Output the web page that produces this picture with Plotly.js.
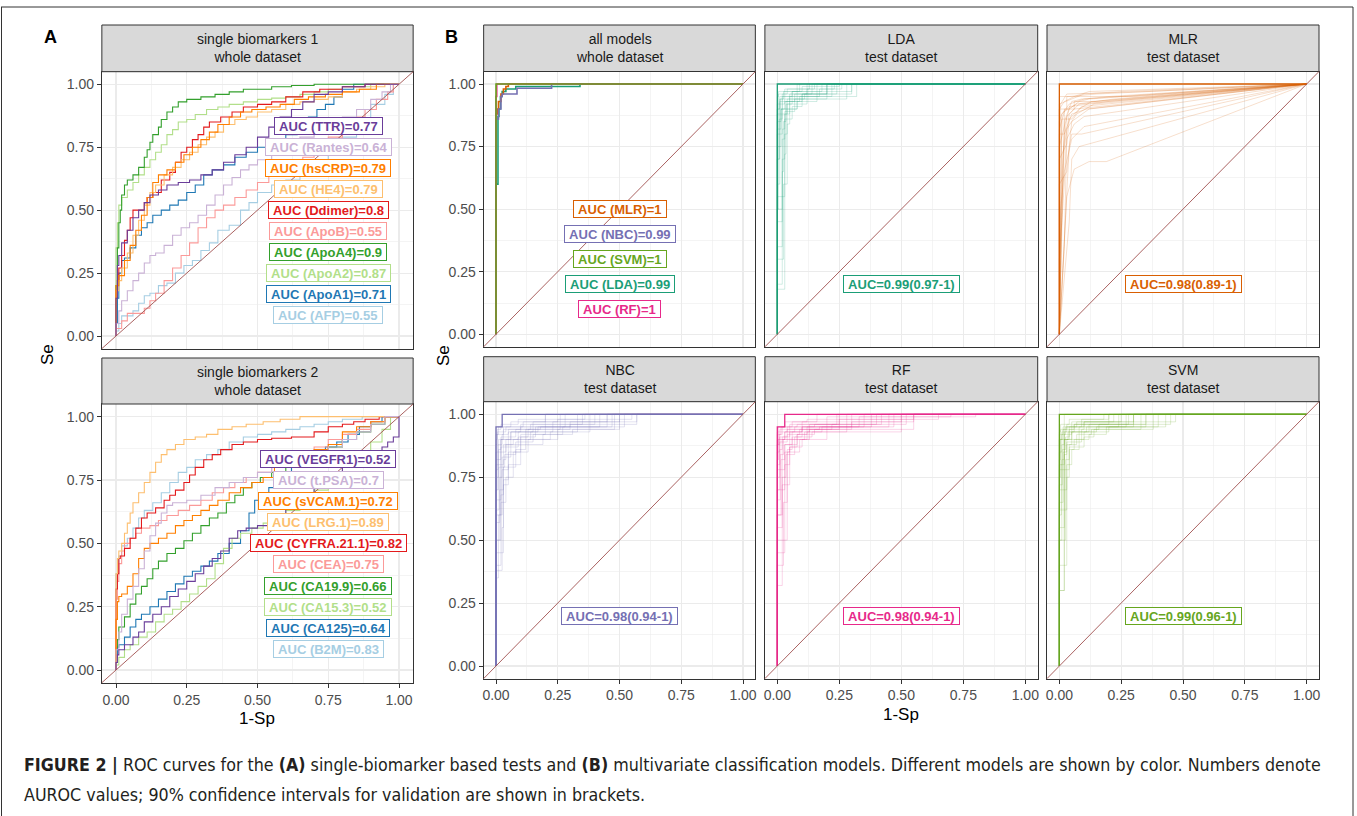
<!DOCTYPE html>
<html><head><meta charset="utf-8">
<script src="https://cdn.plot.ly/plotly-3.0.1.min.js"></script>
<style>html,body{margin:0;padding:0;background:#fff}#chart{width:1357px;height:816px}</style>
</head><body><div id="chart"></div>
<script>
// ---------------- DATA ----------------
const BIOMARKERS_1 = ['AFP','ApoA1','ApoA2','ApoA4','ApoB','Ddimer','HE4','hsCRP','Rantes','TTR'];
const AUC_1 = [0.55,0.71,0.87,0.9,0.55,0.8,0.79,0.79,0.64,0.77];
const BIOMARKERS_2 = ['B2M','CA125','CA15.3','CA19.9','CEA','CYFRA.21.1','LRG.1','sVCAM.1','t.PSA','VEGFR1'];
const AUC_2 = [0.83,0.64,0.52,0.66,0.75,0.82,0.89,0.72,0.7,0.52];
const MODELS = ['LDA','MLR','NBC','RF','SVM'];
const AUC_MODELS = [0.99,1,0.99,1,1];
const AUC_TEST = ['0.99(0.97-1)','0.98(0.89-1)','0.98(0.94-1)','0.98(0.94-1)','0.99(0.96-1)'];
const STRIP_TITLES = ['single biomarkers 1<br>whole dataset','single biomarkers 2<br>whole dataset','all models<br>whole dataset','LDA<br>test dataset','MLR<br>test dataset','NBC<br>test dataset','RF<br>test dataset','SVM<br>test dataset'];
const TICK_VALS = [0,0.25,0.5,0.75,1];
const TICK_TEXT = ['0.00','0.25','0.50','0.75','1.00'];

// ROC curves (1-Sp, Se) pairs, panel A top
const ROC_AFP = [0,0, 0.01,0.02, 0.02,0.05, 0.04,0.08, 0.06,0.08, 0.08,0.1, 0.1,0.13, 0.12,0.16, 0.15,0.17, 0.18,0.2, 0.21,0.21, 0.24,0.25, 0.27,0.28, 0.3,0.3, 0.33,0.34, 0.36,0.37, 0.4,0.42, 0.44,0.44, 0.47,0.5, 0.5,0.53, 0.55,0.57, 0.6,0.6, 0.65,0.62, 0.7,0.66, 0.75,0.7, 0.8,0.74, 0.85,0.79, 0.9,0.85, 0.95,0.92, 0.98,0.96, 1,1];
const ROC_APOA1 = [0,0, 0.005,0.05, 0.01,0.15, 0.02,0.25, 0.03,0.3, 0.05,0.31, 0.07,0.35, 0.09,0.4, 0.11,0.43, 0.13,0.45, 0.16,0.48, 0.19,0.5, 0.22,0.52, 0.25,0.54, 0.28,0.57, 0.31,0.6, 0.34,0.64, 0.38,0.66, 0.42,0.68, 0.46,0.71, 0.5,0.73, 0.55,0.75, 0.6,0.77, 0.64,0.8, 0.68,0.83, 0.71,0.87, 0.74,0.9, 0.77,0.92, 0.8,0.95, 0.84,0.98, 0.88,1, 1,1];
const ROC_APOA2 = [0,0, 0,0.25, 0.005,0.35, 0.01,0.45, 0.02,0.52, 0.04,0.55, 0.06,0.58, 0.08,0.61, 0.1,0.64, 0.12,0.67, 0.14,0.7, 0.16,0.73, 0.18,0.76, 0.2,0.8, 0.22,0.82, 0.25,0.85, 0.28,0.86, 0.32,0.88, 0.36,0.9, 0.4,0.91, 0.45,0.92, 0.5,0.93, 0.55,0.94, 0.6,0.945, 0.65,0.95, 0.7,0.96, 0.75,0.97, 0.8,0.98, 0.9,0.99, 1,1];
const ROC_APOA4 = [0,0, 0.005,0.2, 0.01,0.35, 0.015,0.45, 0.02,0.5, 0.03,0.56, 0.04,0.6, 0.06,0.62, 0.08,0.64, 0.1,0.67, 0.11,0.71, 0.12,0.74, 0.13,0.77, 0.15,0.8, 0.16,0.83, 0.18,0.86, 0.2,0.89, 0.22,0.91, 0.25,0.93, 0.3,0.94, 0.35,0.95, 0.4,0.96, 0.45,0.97, 0.55,0.98, 0.62,0.99, 0.7,0.995, 0.8,1, 1,1];
const ROC_APOB = [0,0, 0.02,0.03, 0.04,0.06, 0.06,0.09, 0.1,0.09, 0.12,0.11, 0.14,0.14, 0.17,0.17, 0.2,0.22, 0.23,0.27, 0.26,0.32, 0.29,0.37, 0.32,0.43, 0.35,0.47, 0.38,0.5, 0.42,0.52, 0.46,0.55, 0.5,0.58, 0.54,0.61, 0.58,0.64, 0.62,0.66, 0.66,0.68, 0.7,0.71, 0.75,0.74, 0.8,0.79, 0.85,0.84, 0.88,0.87, 0.92,0.9, 0.96,0.94, 0.98,0.97, 1,1];
const ROC_DDIMER = [0,0, 0,0.1, 0.005,0.18, 0.01,0.22, 0.02,0.27, 0.03,0.32, 0.04,0.38, 0.05,0.42, 0.06,0.47, 0.07,0.5, 0.1,0.5, 0.11,0.53, 0.13,0.55, 0.16,0.57, 0.19,0.62, 0.21,0.65, 0.23,0.69, 0.25,0.73, 0.27,0.75, 0.29,0.78, 0.31,0.8, 0.33,0.83, 0.37,0.85, 0.41,0.87, 0.45,0.89, 0.5,0.91, 0.55,0.92, 0.6,0.93, 0.66,0.95, 0.72,0.97, 0.8,0.98, 0.88,0.99, 1,1];
const ROC_HE4 = [0,0, 0,0.12, 0.01,0.18, 0.02,0.22, 0.04,0.27, 0.06,0.33, 0.08,0.4, 0.1,0.46, 0.12,0.52, 0.14,0.57, 0.17,0.6, 0.2,0.64, 0.23,0.67, 0.26,0.7, 0.29,0.73, 0.32,0.76, 0.35,0.79, 0.38,0.81, 0.42,0.84, 0.46,0.86, 0.5,0.87, 0.55,0.89, 0.6,0.9, 0.65,0.92, 0.7,0.93, 0.75,0.94, 0.8,0.95, 0.85,0.97, 0.9,0.98, 0.95,0.99, 1,1];
const ROC_HSCRP = [0,0, 0,0.15, 0.01,0.2, 0.03,0.24, 0.05,0.3, 0.07,0.36, 0.09,0.42, 0.11,0.48, 0.13,0.55, 0.15,0.61, 0.18,0.64, 0.21,0.66, 0.24,0.69, 0.27,0.72, 0.3,0.75, 0.33,0.78, 0.36,0.81, 0.4,0.84, 0.44,0.87, 0.48,0.89, 0.53,0.9, 0.58,0.91, 0.63,0.92, 0.68,0.94, 0.74,0.95, 0.8,0.96, 0.86,0.97, 0.92,0.98, 1,1];
const ROC_RANTES = [0,0, 0.01,0.05, 0.02,0.1, 0.04,0.14, 0.06,0.18, 0.08,0.22, 0.1,0.25, 0.12,0.29, 0.14,0.32, 0.17,0.33, 0.2,0.36, 0.23,0.4, 0.26,0.43, 0.29,0.45, 0.32,0.48, 0.35,0.52, 0.38,0.56, 0.41,0.6, 0.44,0.63, 0.47,0.66, 0.5,0.68, 0.55,0.7, 0.6,0.73, 0.65,0.76, 0.7,0.79, 0.75,0.82, 0.8,0.85, 0.85,0.87, 0.9,0.9, 0.94,0.94, 0.97,0.97, 1,1];
const ROC_TTR = [0,0, 0.005,0.15, 0.01,0.28, 0.02,0.32, 0.04,0.37, 0.06,0.42, 0.08,0.47, 0.1,0.5, 0.12,0.53, 0.15,0.56, 0.18,0.58, 0.22,0.6, 0.26,0.61, 0.3,0.62, 0.34,0.64, 0.38,0.66, 0.42,0.69, 0.46,0.72, 0.5,0.75, 0.54,0.79, 0.58,0.83, 0.62,0.87, 0.66,0.9, 0.7,0.93, 0.75,0.96, 0.8,0.97, 0.88,0.99, 1,1];

// panel A bottom
const ROC_B2M = [0,0, 0,0.3, 0.01,0.38, 0.02,0.45, 0.04,0.49, 0.06,0.52, 0.08,0.56, 0.1,0.6, 0.13,0.63, 0.16,0.66, 0.19,0.7, 0.22,0.74, 0.25,0.78, 0.28,0.8, 0.32,0.83, 0.36,0.85, 0.4,0.87, 0.45,0.9, 0.5,0.92, 0.55,0.93, 0.6,0.94, 0.65,0.95, 0.7,0.96, 0.75,0.97, 0.8,0.98, 0.87,0.99, 0.95,1, 1,1];
const ROC_CA125 = [0,0, 0.005,0.05, 0.01,0.09, 0.03,0.1, 0.05,0.13, 0.07,0.17, 0.09,0.2, 0.12,0.22, 0.15,0.25, 0.18,0.28, 0.21,0.31, 0.24,0.34, 0.27,0.37, 0.3,0.39, 0.33,0.41, 0.36,0.43, 0.4,0.46, 0.44,0.5, 0.47,0.55, 0.49,0.62, 0.51,0.67, 0.54,0.7, 0.58,0.72, 0.62,0.75, 0.66,0.8, 0.7,0.83, 0.74,0.86, 0.78,0.88, 0.82,0.9, 0.86,0.93, 0.9,0.96, 0.94,0.98, 1,1];
const ROC_CA153 = [0,0, 0.01,0.02, 0.03,0.05, 0.05,0.08, 0.08,0.1, 0.11,0.13, 0.14,0.15, 0.17,0.19, 0.2,0.22, 0.23,0.24, 0.26,0.27, 0.29,0.3, 0.32,0.33, 0.35,0.36, 0.38,0.42, 0.41,0.48, 0.44,0.52, 0.48,0.54, 0.52,0.56, 0.56,0.58, 0.6,0.6, 0.65,0.63, 0.7,0.67, 0.75,0.71, 0.8,0.76, 0.85,0.8, 0.9,0.85, 0.94,0.9, 0.97,0.95, 1,1];
const ROC_CA199 = [0,0, 0,0.05, 0.005,0.09, 0.01,0.12, 0.03,0.17, 0.05,0.21, 0.07,0.26, 0.09,0.3, 0.11,0.33, 0.13,0.36, 0.15,0.4, 0.18,0.43, 0.21,0.46, 0.24,0.48, 0.27,0.51, 0.3,0.54, 0.33,0.57, 0.36,0.6, 0.39,0.62, 0.42,0.66, 0.45,0.69, 0.48,0.72, 0.51,0.74, 0.55,0.76, 0.6,0.78, 0.65,0.8, 0.7,0.83, 0.75,0.86, 0.8,0.88, 0.85,0.91, 0.9,0.94, 0.95,0.97, 1,1];
const ROC_CEA = [0,0, 0,0.15, 0.005,0.28, 0.01,0.35, 0.02,0.42, 0.03,0.47, 0.05,0.5, 0.07,0.52, 0.09,0.54, 0.12,0.56, 0.15,0.57, 0.18,0.59, 0.22,0.61, 0.26,0.63, 0.3,0.65, 0.34,0.67, 0.38,0.7, 0.42,0.72, 0.46,0.74, 0.5,0.76, 0.55,0.78, 0.6,0.8, 0.65,0.82, 0.7,0.85, 0.75,0.88, 0.8,0.91, 0.85,0.93, 0.9,0.95, 0.95,0.98, 1,1];
const ROC_CYFRA = [0,0, 0,0.25, 0.005,0.32, 0.01,0.38, 0.015,0.44, 0.03,0.45, 0.05,0.48, 0.07,0.52, 0.09,0.56, 0.11,0.6, 0.14,0.62, 0.17,0.64, 0.19,0.67, 0.21,0.69, 0.24,0.71, 0.26,0.74, 0.28,0.77, 0.31,0.8, 0.34,0.83, 0.37,0.85, 0.41,0.87, 0.45,0.89, 0.5,0.9, 0.55,0.91, 0.62,0.915, 0.7,0.92, 0.75,0.94, 0.8,0.96, 0.84,0.97, 0.88,0.98, 0.93,0.99, 1,1];
const ROC_LRG1 = [0,0, 0,0.3, 0.005,0.38, 0.01,0.44, 0.02,0.47, 0.03,0.5, 0.04,0.54, 0.05,0.58, 0.06,0.62, 0.08,0.66, 0.1,0.7, 0.12,0.74, 0.14,0.78, 0.16,0.82, 0.18,0.85, 0.21,0.87, 0.24,0.89, 0.28,0.91, 0.32,0.92, 0.36,0.93, 0.41,0.95, 0.46,0.96, 0.52,0.97, 0.58,0.98, 0.65,0.99, 0.75,1, 1,1];
const ROC_SVCAM1 = [0,0, 0,0.05, 0.005,0.2, 0.01,0.27, 0.02,0.29, 0.04,0.3, 0.06,0.33, 0.08,0.38, 0.1,0.44, 0.12,0.48, 0.15,0.5, 0.18,0.52, 0.21,0.54, 0.24,0.57, 0.27,0.59, 0.3,0.61, 0.33,0.63, 0.36,0.65, 0.4,0.67, 0.44,0.7, 0.48,0.72, 0.52,0.74, 0.56,0.76, 0.6,0.8, 0.65,0.84, 0.7,0.86, 0.75,0.87, 0.8,0.89, 0.85,0.94, 0.9,0.96, 0.95,0.98, 1,1];
const ROC_TPSA = [0,0, 0,0.02, 0.01,0.08, 0.02,0.15, 0.04,0.22, 0.06,0.28, 0.08,0.33, 0.1,0.4, 0.12,0.47, 0.14,0.53, 0.16,0.58, 0.18,0.62, 0.2,0.65, 0.25,0.66, 0.3,0.67, 0.35,0.69, 0.4,0.72, 0.45,0.74, 0.5,0.76, 0.55,0.78, 0.6,0.8, 0.65,0.82, 0.7,0.84, 0.75,0.86, 0.8,0.88, 0.85,0.91, 0.9,0.94, 0.95,0.97, 1,1];
const ROC_VEGFR1 = [0,0, 0.005,0.03, 0.01,0.06, 0.03,0.08, 0.06,0.1, 0.08,0.13, 0.1,0.15, 0.13,0.19, 0.16,0.22, 0.19,0.25, 0.22,0.29, 0.25,0.32, 0.28,0.35, 0.31,0.38, 0.34,0.41, 0.37,0.44, 0.4,0.47, 0.43,0.52, 0.46,0.55, 0.5,0.56, 0.55,0.57, 0.6,0.6, 0.65,0.64, 0.7,0.68, 0.75,0.72, 0.8,0.77, 0.85,0.81, 0.9,0.84, 0.94,0.86, 0.96,0.88, 0.98,0.9, 1,0.92, 1,1];

// panel B, all models, whole dataset
const ROC_LDA = [0,0, 0.008,0.6, 0.012,0.87, 0.018,0.9, 0.025,0.95, 0.04,0.97, 0.08,0.98, 0.34,0.99, 1,1];
const ROC_MLR = [0,0, 0.005,0.88, 0.01,0.9, 0.02,0.93, 0.03,0.96, 0.04,0.98, 0.05,0.99, 1,1];
const ROC_NBC = [0,0, 0.01,0.86, 0.02,0.9, 0.025,0.95, 0.085,0.96, 0.225,0.983, 1,1];
const ROC_RF = [0,0, 0.003,0.95, 1,1];
const ROC_SVM = [0,0, 1,1];

// test dataset: main curves
const TEST_LDA = [0,0, 1,1];
const TEST_MLR = [0,0, 0,1, 1,1];
const TEST_NBC = [0,0, 0.025,0.95, 1,1];
const TEST_RF = [0,0, 0.03,0.95, 1,1];
const TEST_SVM = [0,0, 1,1];

// test dataset: validation resamples
const BOOT_LDA = [
 [0,0, 0.005,0.8, 0.02,0.92, 0.06,0.95, 0.18,0.97, 1,1],
 [0,0, 0.01,0.6, 0.015,0.85, 0.04,0.9, 0.1,0.94, 0.3,0.96, 1,1],
 [0,0, 0.02,0.2, 0.03,0.7, 0.05,0.88, 0.09,0.93, 0.22,0.95, 1,1],
 [0,0, 0.01,0.9, 0.03,0.95, 0.08,0.98, 1,1],
 [0,0, 0.015,0.75, 0.03,0.9, 0.07,0.93, 0.14,0.96, 1,1],
 [0,0, 0.005,0.5, 0.02,0.8, 0.04,0.88, 0.12,0.92, 0.32,0.95, 1,1],
 [0,0, 0.02,0.35, 0.025,0.65, 0.035,0.85, 0.06,0.92, 0.2,0.96, 1,1],
 [0,0, 0.01,0.85, 0.025,0.94, 0.1,0.97, 0.25,0.99, 1,1],
 [0,0, 0.03,0.55, 0.04,0.8, 0.08,0.9, 0.16,0.93, 1,1],
 [0,0, 0.005,0.92, 0.04,0.96, 0.13,0.98, 1,1],
 [0,0, 0.02,0.45, 0.03,0.78, 0.06,0.86, 0.1,0.91, 0.28,0.94, 1,1],
 [0,0, 0.01,0.7, 0.02,0.88, 0.05,0.93, 0.17,0.95, 0.26,0.98, 1,1],
 [0,0, 0.025,0.3, 0.04,0.6, 0.05,0.84, 0.08,0.9, 0.12,0.95, 1,1],
 [0,0, 0.005,0.95, 0.09,0.97, 1,1],
 [0,0, 0.015,0.82, 0.035,0.9, 0.1,0.93, 0.2,0.96, 1,1],
 [0,0, 0.01,0.88, 0.02,0.93, 0.06,0.96, 0.3,0.97, 1,1],
 [0,0, 0.02,0.5, 0.03,0.82, 0.07,0.89, 0.11,0.94, 0.24,0.96, 1,1],
 [0,0, 0.008,0.7, 0.02,0.86, 0.03,0.92, 0.08,0.95, 0.15,0.98, 1,1],
 [0,0, 0.03,0.18, 0.035,0.72, 0.05,0.9, 0.2,0.94, 1,1],
 [0,0, 0.012,0.9, 0.05,0.94, 0.12,0.96, 0.23,0.98, 1,1]
];
const BOOT_MLR = [
 [0,0, 0,0.8, 0.02,0.8, 0.02,0.9, 0.06,0.9, 0.06,0.93, 0.15,0.93, 1,1],
 [0,0, 0.01,0.5, 0.02,0.75, 0.04,0.88, 0.08,0.92, 1,1],
 [0,0, 0,0.6, 0.03,0.65, 0.05,0.85, 0.12,0.9, 1,1],
 [0,0, 0,0.9, 0.03,0.9, 0.03,0.95, 0.3,0.95, 1,1],
 [0,0, 0.03,0.55, 0.06,0.66, 0.12,0.69, 0.19,0.69, 1,1],
 [0,0, 0,0.85, 0.01,0.88, 0.04,0.92, 0.1,0.94, 0.2,0.95, 1,1],
 [0,0, 0.01,0.7, 0.01,0.86, 0.05,0.86, 0.09,0.91, 1,1],
 [0,0, 0,0.3, 0.02,0.6, 0.03,0.82, 0.07,0.88, 0.14,0.92, 1,1],
 [0,0, 0,0.92, 0.05,0.94, 0.1,0.96, 0.25,0.97, 1,1],
 [0,0, 0.02,0.35, 0.03,0.78, 0.06,0.84, 0.1,0.87, 1,1],
 [0,0, 0,0.75, 0.02,0.83, 0.04,0.9, 0.08,0.93, 0.12,0.94, 1,1],
 [0,0, 0.01,0.88, 0.04,0.91, 0.2,0.93, 1,1],
 [0,0, 0.005,0.5, 0.02,0.65, 0.05,0.78, 0.1,0.83, 1,1],
 [0,0, 0,0.95, 0.04,0.95, 0.15,0.96, 1,1],
 [0,0, 0.015,0.72, 0.03,0.87, 0.06,0.9, 0.16,0.91, 1,1],
 [0,0, 0,0.82, 0.02,0.89, 0.07,0.92, 0.22,0.94, 1,1],
 [0,0, 0.03,0.6, 0.04,0.75, 0.05,0.8, 0.09,0.8, 1,1],
 [0,0, 0,0.9, 0.02,0.93, 0.06,0.95, 0.12,0.97, 1,1],
 [0,0, 0.01,0.62, 0.02,0.8, 0.05,0.88, 0.11,0.9, 1,1],
 [0,0, 0,0.7, 0.03,0.76, 0.04,0.86, 0.08,0.9, 0.13,0.93, 1,1],
 [0,0, 0.02,0.85, 0.05,0.93, 0.09,0.94, 1,1],
 [0,0, 0.005,0.92, 0.03,0.96, 0.35,0.97, 1,1],
 [0,0, 0.04,0.45, 0.05,0.7, 0.08,0.75, 1,1]
];
const BOOT_NBC = [
 [0,0, 0.01,0.35, 0.02,0.6, 0.03,0.8, 0.06,0.88, 0.15,0.93, 0.45,0.95, 1,1],
 [0,0, 0.005,0.7, 0.02,0.85, 0.05,0.9, 0.12,0.93, 0.3,0.94, 0.57,0.96, 1,1],
 [0,0, 0.02,0.5, 0.03,0.68, 0.08,0.79, 0.12,0.86, 0.25,0.9, 0.5,0.94, 1,1],
 [0,0, 0.01,0.8, 0.03,0.9, 0.1,0.94, 0.35,0.96, 1,1],
 [0,0, 0.015,0.57, 0.025,0.75, 0.06,0.83, 0.1,0.88, 0.2,0.92, 0.42,0.95, 1,1],
 [0,0, 0.005,0.9, 0.04,0.93, 0.15,0.95, 0.5,0.97, 1,1],
 [0,0, 0.02,0.4, 0.04,0.65, 0.07,0.75, 0.13,0.85, 0.22,0.9, 0.38,0.93, 1,1],
 [0,0, 0.01,0.75, 0.02,0.86, 0.08,0.91, 0.18,0.94, 0.47,0.95, 1,1],
 [0,0, 0.025,0.6, 0.05,0.78, 0.09,0.87, 0.16,0.91, 0.28,0.95, 1,1],
 [0,0, 0.005,0.85, 0.03,0.92, 0.11,0.95, 0.25,0.97, 0.55,0.98, 1,1],
 [0,0, 0.015,0.5, 0.03,0.7, 0.04,0.82, 0.07,0.88, 0.14,0.9, 0.33,0.93, 1,1],
 [0,0, 0.01,0.92, 0.06,0.95, 0.2,0.97, 1,1],
 [0,0, 0.03,0.45, 0.05,0.72, 0.1,0.8, 0.19,0.88, 0.31,0.92, 0.48,0.94, 1,1],
 [0,0, 0.008,0.78, 0.025,0.88, 0.05,0.92, 0.14,0.94, 0.4,0.96, 1,1],
 [0,0, 0.02,0.66, 0.04,0.85, 0.12,0.9, 0.23,0.93, 0.45,0.97, 1,1],
 [0,0, 0.005,0.88, 0.02,0.94, 0.09,0.96, 0.36,0.98, 1,1],
 [0,0, 0.012,0.62, 0.035,0.79, 0.08,0.84, 0.15,0.89, 0.27,0.92, 0.52,0.95, 1,1],
 [0,0, 0.02,0.82, 0.06,0.9, 0.1,0.93, 0.2,0.95, 1,1],
 [0,0, 0.01,0.7, 0.02,0.8, 0.05,0.87, 0.09,0.9, 0.17,0.93, 0.3,0.95, 0.57,0.97, 1,1],
 [0,0, 0.025,0.38, 0.03,0.55, 0.05,0.74, 0.1,0.85, 0.13,0.91, 0.26,0.94, 1,1]
];
const BOOT_RF = [
 [0,0, 0.01,0.7, 0.03,0.9, 0.1,0.93, 0.3,0.95, 0.55,0.97, 1,1],
 [0,0, 0.02,0.32, 0.04,0.72, 0.06,0.86, 0.13,0.9, 0.25,0.94, 1,1],
 [0,0, 0.005,0.88, 0.04,0.93, 0.15,0.95, 0.4,0.96, 1,1],
 [0,0, 0.03,0.45, 0.05,0.8, 0.1,0.87, 0.2,0.9, 0.5,0.93, 1,1],
 [0,0, 0.01,0.9, 0.05,0.94, 0.2,0.96, 0.8,0.99, 1,1],
 [0,0, 0.015,0.6, 0.03,0.82, 0.08,0.88, 0.12,0.92, 0.45,0.95, 1,1],
 [0,0, 0.005,0.93, 0.03,0.95, 0.12,0.97, 0.55,0.98, 1,1],
 [0,0, 0.02,0.55, 0.035,0.75, 0.07,0.84, 0.1,0.91, 0.3,0.94, 1,1],
 [0,0, 0.01,0.8, 0.04,0.89, 0.09,0.92, 0.22,0.94, 0.52,0.96, 1,1],
 [0,0, 0.025,0.4, 0.04,0.65, 0.05,0.85, 0.11,0.9, 0.18,0.93, 0.35,0.95, 1,1],
 [0,0, 0.008,0.85, 0.02,0.92, 0.08,0.95, 0.25,0.96, 0.65,0.98, 1,1],
 [0,0, 0.03,0.7, 0.06,0.88, 0.14,0.91, 0.28,0.93, 1,1],
 [0,0, 0.01,0.75, 0.02,0.86, 0.05,0.91, 0.17,0.94, 0.47,0.95, 1,1],
 [0,0, 0.015,0.92, 0.06,0.95, 0.16,0.97, 1,1],
 [0,0, 0.02,0.6, 0.03,0.78, 0.09,0.85, 0.12,0.9, 0.2,0.93, 0.42,0.96, 1,1],
 [0,0, 0.005,0.82, 0.03,0.9, 0.07,0.93, 0.38,0.95, 1,1],
 [0,0, 0.04,0.5, 0.05,0.72, 0.08,0.87, 0.15,0.92, 0.55,0.94, 1,1],
 [0,0, 0.01,0.88, 0.04,0.91, 0.1,0.94, 0.5,0.97, 1,1],
 [0,0, 0.02,0.78, 0.05,0.9, 0.13,0.93, 0.24,0.96, 1,1],
 [0,0, 0.012,0.66, 0.025,0.84, 0.06,0.9, 0.1,0.93, 0.33,0.95, 0.7,0.99, 1,1]
];
const BOOT_SVM = [
 [0,0, 0.02,0.3, 1,1],
 [0,0, 0.005,0.75, 0.02,0.9, 0.06,0.93, 0.2,0.96, 1,1],
 [0,0, 0.01,0.5, 0.02,0.82, 0.04,0.9, 0.1,0.94, 0.35,0.96, 1,1],
 [0,0, 0.02,0.3, 0.03,0.7, 0.05,0.88, 0.12,0.93, 0.3,0.95, 1,1],
 [0,0, 0.005,0.9, 0.03,0.94, 0.1,0.96, 0.47,0.97, 1,1],
 [0,0, 0.015,0.65, 0.03,0.85, 0.08,0.9, 0.15,0.93, 0.27,0.95, 1,1],
 [0,0, 0.01,0.85, 0.025,0.92, 0.07,0.95, 0.22,0.97, 1,1],
 [0,0, 0.02,0.55, 0.04,0.78, 0.06,0.86, 0.1,0.9, 0.2,0.93, 0.4,0.95, 1,1],
 [0,0, 0.005,0.93, 0.04,0.96, 0.18,0.98, 1,1],
 [0,0, 0.03,0.4, 0.04,0.75, 0.07,0.88, 0.13,0.92, 0.33,0.94, 1,1],
 [0,0, 0.01,0.8, 0.02,0.88, 0.05,0.92, 0.12,0.95, 0.45,0.96, 1,1],
 [0,0, 0.015,0.92, 0.05,0.95, 0.25,0.97, 1,1],
 [0,0, 0.02,0.7, 0.03,0.84, 0.09,0.89, 0.16,0.94, 0.3,0.96, 1,1],
 [0,0, 0.008,0.6, 0.02,0.8, 0.035,0.9, 0.08,0.93, 0.24,0.95, 1,1],
 [0,0, 0.025,0.5, 0.04,0.82, 0.1,0.87, 0.14,0.91, 0.38,0.94, 1,1],
 [0,0, 0.01,0.9, 0.03,0.93, 0.09,0.95, 0.2,0.98, 1,1],
 [0,0, 0.02,0.78, 0.05,0.9, 0.11,0.93, 0.43,0.95, 1,1],
 [0,0, 0.005,0.82, 0.015,0.9, 0.06,0.94, 0.28,0.96, 1,1],
 [0,0, 0.03,0.62, 0.05,0.8, 0.08,0.86, 0.12,0.9, 0.19,0.92, 0.35,0.95, 1,1],
 [0,0, 0.012,0.72, 0.025,0.86, 0.04,0.91, 0.1,0.95, 0.3,0.97, 1,1]
];

const ROC_1 = [ROC_AFP, ROC_APOA1, ROC_APOA2, ROC_APOA4, ROC_APOB, ROC_DDIMER, ROC_HE4, ROC_HSCRP, ROC_RANTES, ROC_TTR];
const ROC_2 = [ROC_B2M, ROC_CA125, ROC_CA153, ROC_CA199, ROC_CEA, ROC_CYFRA, ROC_LRG1, ROC_SVCAM1, ROC_TPSA, ROC_VEGFR1];
const ROC_MODELS = [ROC_LDA, ROC_MLR, ROC_NBC, ROC_RF, ROC_SVM];
const TEST_MAIN = [TEST_LDA, TEST_MLR, TEST_NBC, TEST_RF, TEST_SVM];
const TEST_BOOT = [BOOT_LDA, BOOT_MLR, BOOT_NBC, BOOT_RF, BOOT_SVM];

// ---------------- STYLE / LAYOUT ----------------
const PAIRED = ['#A6CEE3','#1F78B4','#B2DF8A','#33A02C','#FB9A99','#E31A1C','#FDBF6F','#FF7F00','#CAB2D6','#6A3D9A'];
const DARK2 = ['#1B9E77','#D95F02','#7570B3','#E7298A','#66A61E'];
const FONT = 'Liberation Sans, Arial, Helvetica, sans-serif';
const W = 1357, H = 816;
const LABEL_Y_A = [0.083,0.167,0.25,0.333,0.417,0.5,0.583,0.667,0.75,0.833];
const LABEL_Y_MODELS = [0.2,0.5,0.4,0.1,0.3];
const TEST_AXIS = [4,5,6,7,8];

// panel boxes in pixels: [left, right, top, bottom, strip top]
const BOXES = [
 [101.85,413.15,71.7,348.6, 25],
 [101.85,413.15,404,682.7, 358],
 [483.65,755.35,71.5,346.8, 25],
 [764.9,1037.7,71.5,346.8, 25],
 [1047,1319,71.5,346.8, 25],
 [483.65,755.35,401.7,678.6, 356.7],
 [764.9,1037.7,401.7,678.6, 356.7],
 [1047,1319,401.7,678.6, 356.7]
];
const SHOW_X = [false,true,false,false,false,true,true,true];
const SHOW_Y = [true,true,true,false,false,true,false,false];

function splitPairs(flat){ const x=[],y=[]; for(let i=0;i<flat.length;i+=2){x.push(flat[i]);y.push(flat[i+1]);} return {x,y}; }
function axName(i,t){ return i===1 ? t : t+i; }

const traces = [];
function addLine(flat, ax, color, width, opacity, shape){
  const p = splitPairs(flat);
  traces.push({type:'scatter', mode:'lines', x:p.x, y:p.y, xaxis:axName(ax,'x'), yaxis:axName(ax,'y'),
    line:{color:color, width:width, shape:shape}, opacity:opacity, hoverinfo:'skip', showlegend:false});
}
ROC_1.forEach((c,i)=>addLine(c,1,PAIRED[i],1.1,1,'vh'));
ROC_2.forEach((c,i)=>addLine(c,2,PAIRED[i],1.1,1,'vh'));
ROC_MODELS.forEach((c,i)=>addLine(c,3,DARK2[i],1.6,1,'vh'));
TEST_BOOT.forEach((set,m)=>{
  set.forEach(c=>addLine(c,TEST_AXIS[m],DARK2[m],1,0.2, m===1?'linear':'vh'));
  addLine(TEST_MAIN[m],TEST_AXIS[m],DARK2[m],1.3,1, m===1?'linear':'vh');
});

const layout = {width:W, height:H, margin:{l:0,r:0,t:0,b:0}, paper_bgcolor:'#fff', plot_bgcolor:'#fff',
  showlegend:false, font:{family:FONT}, shapes:[], annotations:[]};

BOXES.forEach((b,k)=>{
  const i = k+1;
  const xd = [b[0]/W, b[1]/W], yd = [1-b[3]/H, 1-b[2]/H];
  const base = {range:[-0.05,1.05], autorange:false, tickmode:'array', tickvals:TICK_VALS, ticktext:TICK_TEXT,
    ticklen:4, tickwidth:1, tickcolor:'#333333', tickfont:{family:FONT,size:14,color:'#4D4D4D'},
    showgrid:true, gridcolor:'#EBEBEB', gridwidth:1.1,
    minor:{tickmode:'array', tickvals:[0.125,0.375,0.625,0.875], showgrid:true, gridcolor:'#EBEBEB', gridwidth:0.55},
    zeroline:false, showline:true, mirror:true, linecolor:'#333333', linewidth:1, fixedrange:true};
  layout[axName(i,'xaxis')] = Object.assign({}, base, {domain:xd, anchor:axName(i,'y'), showticklabels:SHOW_X[k], ticks:SHOW_X[k]?'outside':''});
  layout[axName(i,'yaxis')] = Object.assign({}, base, {domain:yd, anchor:axName(i,'x'), showticklabels:SHOW_Y[k], ticks:SHOW_Y[k]?'outside':''});
  // strip
  layout.shapes.push({type:'rect', xref:'paper', yref:'paper', x0:b[0]/W, x1:b[1]/W, y0:1-b[2]/H, y1:1-b[4]/H,
    fillcolor:'#D9D9D9', line:{color:'#333333', width:1}, layer:'above'});
  layout.annotations.push({xref:'paper', yref:'paper', x:(b[0]+b[1])/2/W, y:1-(b[2]+b[4])/2/H, xanchor:'center', yanchor:'middle',
    text:STRIP_TITLES[k], showarrow:false, font:{family:FONT,size:14,color:'#1A1A1A'}});
  // diagonal reference line
  layout.shapes.push({type:'line', xref:axName(i,'x')+' domain', yref:axName(i,'y')+' domain', x0:0, y0:0, x1:1, y1:1,
    line:{color:'#A0504F', width:0.9}, layer:'above'});
});

function label(ax, x, y, text, color){
  layout.annotations.push({xref:axName(ax,'x'), yref:axName(ax,'y'), x:x, y:y, xanchor:'center', yanchor:'middle',
    text:'<b>\u00a0'+text+'\u00a0</b>', showarrow:false, font:{family:FONT,size:13,color:color},
    bgcolor:'#FFFFFF', bordercolor:color, borderwidth:1, borderpad:0.5});
}
BIOMARKERS_1.forEach((n,i)=>label(1,0.75,LABEL_Y_A[i],'AUC ('+n+')='+AUC_1[i],PAIRED[i]));
BIOMARKERS_2.forEach((n,i)=>label(2,0.75,LABEL_Y_A[i],'AUC ('+n+')='+AUC_2[i],PAIRED[i]));
MODELS.forEach((n,i)=>label(3,0.5,LABEL_Y_MODELS[i],'AUC ('+n+')='+AUC_MODELS[i],DARK2[i]));
MODELS.forEach((n,i)=>label(TEST_AXIS[i],0.5,0.2,'AUC='+AUC_TEST[i],DARK2[i]));

// axis titles
function ptext(px,py,text,size,opts){
  layout.annotations.push(Object.assign({xref:'paper', yref:'paper', x:px/W, y:1-py/H, xanchor:'center', yanchor:'middle',
    text:text, showarrow:false, font:{family:FONT,size:size,color:'#000'}}, opts||{}));
}
ptext(47,355,'Se',17,{textangle:-90});
ptext(443,355,'Se',17,{textangle:-90});
ptext(257,718,'1-Sp',17);
ptext(901,714,'1-Sp',17);
ptext(50,37,'<b>A</b>',18);
ptext(451,37,'<b>B</b>',18);

// caption
const CAP_FONT = 'Liberation Sans Narrow, Arial Narrow, DejaVu Sans Condensed, Liberation Sans, sans-serif';
ptext(22,765,'<b>FIGURE 2 |</b> ROC curves for the <b>(A)</b> single-biomarker based tests and <b>(B)</b> multivariate classification models. Different models are shown by color. Numbers denote',17.7,{xanchor:'left', font:{family:CAP_FONT,size:17.7,color:'#231F20'}});
ptext(22,795,'AUROC values; 90% confidence intervals for validation are shown in brackets.',17.7,{xanchor:'left', font:{family:CAP_FONT,size:17.7,color:'#231F20'}});

// outer frame
layout.shapes.push({type:'line', xref:'paper', yref:'paper', x0:1/W, x1:1353/W, y0:1-7/H, y1:1-7/H, line:{color:'#333333',width:1}});
layout.shapes.push({type:'line', xref:'paper', yref:'paper', x0:1.5/W, x1:1.5/W, y0:1-7/H, y1:0, line:{color:'#333333',width:1}});
layout.shapes.push({type:'line', xref:'paper', yref:'paper', x0:1353/W, x1:1353/W, y0:1-7/H, y1:0, line:{color:'#333333',width:1}});

Plotly.newPlot('chart', traces, layout, {staticPlot:true, displayModeBar:false});
</script></body></html>
